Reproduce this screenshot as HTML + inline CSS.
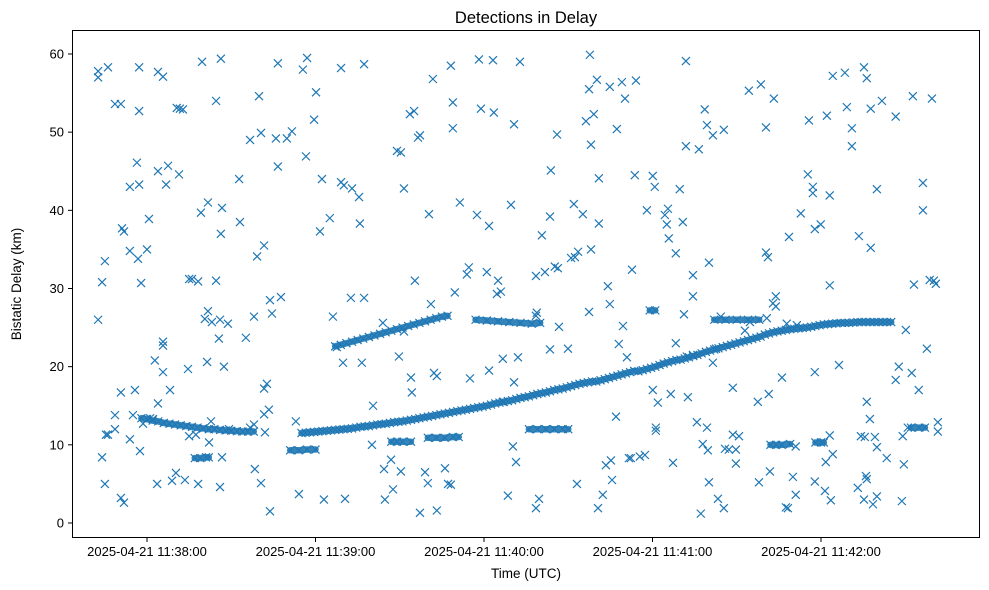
<!DOCTYPE html>
<html>
<head>
<meta charset="utf-8">
<style>
  html,body{margin:0;padding:0;background:#fff;}
  svg{display:block;font-family:"Liberation Sans","DejaVu Sans",sans-serif;}
</style>
</head>
<body>
<svg id="chart" width="989" height="590" viewBox="0 0 989 590">
  <rect x="0" y="0" width="989" height="590" fill="#fff"/>
  <text x="526" y="23" text-anchor="middle" font-size="16.5" fill="#000">Detections in Delay</text>
  <g id="bands"></g>
  <g id="marks"></g>
  <g id="yticks"></g>
  <g id="xticks"></g>
  <rect x="72.5" y="30.5" width="907" height="507" fill="none" stroke="#000" stroke-width="1"/>
  <text x="526" y="578" text-anchor="middle" font-size="13.5" fill="#000">Time (UTC)</text>
  <text transform="translate(21,284) rotate(-90)" text-anchor="middle" font-size="13.5" fill="#000">Bistatic Delay (km)</text>
</svg>
<script>
// time in seconds after 2025-04-21 11:38:00, delay in km
const xTickValues = [0, 60, 120, 180, 240];
const xTickLabels = ["2025-04-21 11:38:00","2025-04-21 11:39:00","2025-04-21 11:40:00","2025-04-21 11:41:00","2025-04-21 11:42:00"];
const yTickValues = [0, 10, 20, 30, 40, 50, 60];

const trackT = [55,56.5,58,59.5,61,62.5,64,65.5,67,68.5,70,71.5,73,74.5,76,77.5,79,80.5,82,83.5,85,86.5,88,89.5,91,92.5,94,95.5,97,98.5,100,101.5,103,104.5,106,107.5,109,110.5,112,113.5,115,116.5,118,119.5,121,122.5,124,125.5,127,128.5,130,131.5,133,134.5,136,137.5,139,140.5,142,143.5,145,146.5,148,149.5,151,152.5,154,155.5,157,158.5,160,161.5,163,164.5,166,167.5,169,170.5,172,173.5,175,176.5,178,179.5,181,182.5,184,185.5,187,188.5,190,191.5,193,194.5,196,197.5,199,200.5,202,203.5,205,206.5,208,209.5,211,212.5,214,215.5,217,218.5,220,221.5,223,224.5,226,227.5,229,230.5,232,233.5,235,236.5,238,239.5,241,242.5,244,245.5,247,248.5,250,251.5,253,254.5,256,257.5,259,260.5,262,263.5,265];
const trackY = [11.5,11.55,11.6,11.65,11.7,11.75,11.8,11.85,11.9,11.95,
12.0,12.05,12.1,12.2,12.3,12.35,12.4,12.5,12.6,12.65,
12.7,12.8,12.9,12.95,13.0,13.1,13.2,13.3,13.4,13.5,
13.6,13.7,13.8,13.9,14.0,14.1,14.2,14.3,14.4,14.5,
14.6,14.7,14.8,14.9,15.0,15.15,15.3,15.4,15.5,15.6,
15.7,15.85,16.0,16.1,16.2,16.35,16.5,16.6,16.7,16.85,
17.0,17.1,17.2,17.35,17.5,17.65,17.8,17.9,18.0,18.1,
18.1,18.25,18.4,18.55,18.7,18.85,19.0,19.15,19.3,19.45,
19.4,19.55,19.7,19.85,20.0,20.2,20.4,20.55,20.7,20.85,
20.9,21.05,21.2,21.35,21.5,21.7,21.9,22.05,22.2,22.35,
22.5,22.65,22.8,22.95,23.1,23.25,23.4,23.55,23.7,23.85,
24.1,24.25,24.4,24.5,24.6,24.7,24.8,24.85,24.9,24.95,
25.0,25.1,25.2,25.3,25.4,25.45,25.5,25.55,25.6,25.6,
25.6,25.65,25.7,25.7,25.7,25.7,25.7,25.7,25.7,25.7,25.7];

const earlyTrackT = [-2,0,2,4,6,8,10,12,14,16,18,20,22,24,26,28,30,32,34,36,38];
const earlyTrackY = [13.4,13.3,13.1,13.0,12.8,12.7,12.6,12.5,12.4,12.3,12.2,12.1,12.0,12.0,11.9,11.85,11.8,11.75,11.7,11.7,11.7];

const upperTrackT = [67,69,71,73,75,77,79,81,83,85,87,89,91,93,95,97,99,101,103,105,107];
const upperTrackY = [22.6,22.8,23.0,23.2,23.4,23.6,23.8,24.0,24.2,24.4,24.6,24.8,25.0,25.2,25.4,25.6,25.8,26.0,26.2,26.4,26.5];

const segmentGroups = [
  [[117,26.0],[121,25.9],[125,25.8],[129,25.7],[133,25.6],[137,25.5],[140,25.6]],
  [[202,26.0],[206,26.0],[210,26.0],[214,26.0],[218,26.0]],
  [[136,12.0],[139,12.0],[142,12.0],[145,12.0],[148,12.0],[150,12.0]],
  [[100,10.9],[103,10.9],[106,10.9],[109,11.0],[111,11.0]],
  [[87,10.4],[89,10.4],[91,10.4],[94,10.4]],
  [[51,9.3],[54,9.3],[57,9.4],[60,9.4]],
  [[17,8.3],[19,8.3],[21,8.4],[22,8.4]],
  [[222,10.0],[224,10.0],[226,10.0],[229,10.1]],
  [[238,10.3],[240,10.3],[241,10.3]],
  [[179,27.2],[181,27.2]],
  [[272,12.2],[275,12.2],[277,12.2]]
];

const noisePoints = [
[-17.4,57],[-17.4,57.8],[-17.4,26],[-16,30.8],[-16,8.4],[-15,33.5],[-15,5],[-14.6,11.3],[-13.9,58.3],[-13.9,11.3],
[-11.4,53.6],[-11.4,13.8],[-11.4,12],[-9.3,53.6],[-9.3,16.7],[-9.3,3.2],[-8.2,2.6],[-8.9,37.7],[-8.2,37.3],
[-6.1,43],[-6.1,34.8],[-6.1,10.7],[-5,13.8],[-4.3,17],[-2.8,58.3],[-2.8,52.7],[-2.8,43.3],[-3.6,46.1],[-3.2,33.8],[-2.1,30.7],[-2.5,9.2],[-1.4,12.7],[0,35],[0.7,38.9],[1.1,13.4],[2.1,13.3],
[2.8,20.8],[3.6,5],[3.9,57.7],[3.9,45],[3.9,15.3],[5.7,57.1],[5.7,23.2],[5.7,22.7],[5.7,19.3],[6.8,43.3],[7.5,45.7],[8.2,17],[8.9,5.4],[10.3,6.4],[11.7,53],[10.6,53.1],[12.8,52.9],[11.4,44.6],[13.5,5.5],[14.6,19.7],[15,11.1],[15,31.2],[16,31.2],[18.2,30.9],[19.2,39.7],[19.6,59],[21.7,41],[20.6,26.1],[21.7,27.1],[23.1,25.7],[21.4,20.6],[22.1,10.3],[22.8,13],[18.2,5],[17.4,11.3],[24.6,31],[24.6,54],[26.3,59.4],[26.7,40.3],[26.3,37],[26,26],[25.6,23.6],[27.4,20],[26.7,8.4],[26,4.6],[29.2,12],[28.8,25.5],[32.8,44],[33.1,38.5],[35.2,23.7],[36.7,12.2],[38.1,12.6],[38.4,6.9],[36.7,49],[38.1,26.4],[39.2,34.1],[39.9,54.6],[40.6,49.9],[40.6,5.1],[41.7,35.5],[41.7,17.2],[42.7,17.8],[41.7,13.9],[42,11.6],[43.8,1.5],[43.8,28.5],[44.5,26.8],[43.4,14.5],[46.6,45.6],[45.9,49.2],[46.6,58.8],[47.7,28.9],[49.8,49.2],[51.6,50.1],[53,13],[54.1,3.7],[55.5,58],[57,59.5],[56.6,46.9],[59.5,51.6],[60.2,55.1],[61.6,37.3],[62.3,44],[63,3],[65.1,39],[66.2,26.4],[67.6,22.5],[69.1,58.2],[69.1,43.6],[70.1,43.2],[69.8,20.5],[70.5,3.1],[72.6,28.8],[73,42.8],[75.5,41.7],[75.8,38.3],[77.3,28.8],[77.3,58.7],[76.5,20.5],[80.5,15],[84,25.6],[80.1,10],[84.7,3],[84.4,6.9],[86.9,8.1],[87.6,4.3],[90.4,6.6],[89.7,21.3],[89,47.6],[90.4,47.4],[91.5,42.8],[91.5,24.5],[94,18.6],[94.3,16.7],[93.6,52.3],[95.1,52.7],[96.5,49.3],[97.2,49.6],[95.4,31],[97.2,1.3],[100,5.1],[99,6.5],[100.4,39.5],[101.1,28],[101.8,56.8],[102.2,19.2],[103.2,18.8],[103.2,1.6],[106.1,7],[107.2,5],[108.2,4.9],[108.2,58.5],[108.9,53.8],[108.9,50.5],[109.6,29.5],[111.4,41],[113.9,31.8],[114.6,32.7],[115,18.5],[117.5,39.4],[118.2,59.3],[118.9,53],[121,32.1],[121.8,38],[121.8,19.5],[123.2,59.2],[123.5,52.5],[124.6,29.3],[125,31],[126,29.6],[126.7,21],[126.7,15.5],[129.6,40.7],[130.7,51],[130.7,18],[132.1,21.2],[130.3,9.8],[131.4,7.8],[128.5,3.5],[132.8,59],[138.5,31.6],[140.6,36.8],[141.7,32.1],[143.5,22.2],[138.5,26.5],[138.8,26.9],[138.5,1.9],[139.6,3.1],[143.8,45.1],[143.5,39.2],[145.2,32.8],[146.3,32.6],[146,49.7],[146.7,25.1],[149.9,22.3],[151,33.9],[152,40.8],[153.5,34.7],[152.4,34],[153.1,5],[155.2,39.5],[157.4,27],[156.3,51.4],[157.7,59.9],[157.4,55.5],[158.1,48.4],[158.1,35],[160.6,1.9],[159.1,52.3],[160.2,56.7],[160.9,44.1],[160.9,38.3],[162.3,3.6],[163.4,7.4],[164.1,30.3],[164.8,28],[164.8,55.8],[165.2,8],[165.6,5.5],[167,13.6],[167.3,50.4],[169.1,56.4],[170.2,54.3],[169.5,25.2],[170.9,21.2],[168,22.9],[172.7,32.4],[173.7,44.5],[174.1,56.6],[171.6,8.3],[172.3,8.3],[175.5,8.5],[177.3,8.7],[178,40],[180.1,44.4],[180.8,43],[180.1,17],[181.9,15.4],[181.2,12.2],[181.2,11.8],[184.4,39.4],[185.5,40.2],[185.1,38.2],[185.8,36.4],[186.5,16.5],[187.3,7.7],[189.7,42.7],[190.8,38.5],[188.3,34.5],[188.3,23],[191.2,26.7],[191.9,59.1],[191.9,48.2],[192.2,21.3],[192.6,16.1],[194.4,31.7],[194.4,29],[194.4,21.5],[195.8,12.9],[196.5,47.8],[198.6,52.9],[199.4,50.9],[200.1,33.3],[199.4,12.2],[197.9,10.1],[199.7,9.3],[200.1,5.2],[197.2,1.2],[201.5,49.6],[202.6,22.3],[201.5,20.5],[204.3,26.4],[203.3,3.1],[205.4,1.9],[205.4,50.3],[205.8,9.5],[207.2,9.4],[208.6,17.3],[208.6,11.3],[209.7,9.4],[209.7,7.6],[210.8,11.1],[214.3,55.3],[212.9,24.6],[214.7,25.7],[217.5,15.5],[217.9,5.2],[218.6,56.1],[220.4,50.6],[220.4,34.6],[221.1,34],[220.7,26.2],[221.4,16.5],[221.8,6.6],[223.2,54.3],[222.9,28.1],[223.9,29],[223.9,27.7],[226.1,18.6],[227.5,2],[228.2,1.9],[227.8,25.5],[228.6,36.6],[230,5.9],[231,3.6],[231,9.8],[231.4,25.3],[232.8,39.6],[235.3,44.6],[235.7,51.5],[237.1,43],[237.1,42.2],[243.1,41.9],[237.8,37.6],[239.9,38.2],[237.8,19.3],[237.8,5.3],[241.4,4.1],[241.7,7.8],[243.1,11.2],[244.2,8.8],[243.5,2.9],[243.1,30.4],[242.1,52.1],[244.2,57.2],[246.4,20.2],[248.5,57.6],[249.2,53.2],[251,50.5],[251,48.2],[255.3,58.3],[256.3,56.9],[257.7,53],[253.5,36.7],[257.7,35.2],[259.9,42.7],[261.7,54],[256.3,15.5],[257.4,13.3],[254.2,11.1],[255.6,11],[259.2,11],[259.9,9.7],[253.1,4.5],[256,6],[256.3,5.6],[255.3,3],[258.5,2.4],[259.9,3.4],[263.4,8.3],[266.6,52],[266.6,18.3],[267.7,20],[269.1,11.1],[269.5,7.5],[268.8,2.8],[270.2,24.7],[272.7,54.6],[273.1,30.5],[272.3,19.2],[270.9,12.2],[274.8,17],[276.3,43.5],[276.3,40],[277.7,22.3],[278.7,31.1],[280.2,31],[280.9,30.6],[279.5,54.3],[281.6,12.9],[281.6,11.7]
];

const NS = "http://www.w3.org/2000/svg";
const x0px = 147, pxPerSec = 168.5 / 60;
const y0px = 523, pxPerKm = 7.817;
function xScale(t){ return x0px + t * pxPerSec; }
function yScale(v){ return y0px - v * pxPerKm; }

const marks = document.getElementById('marks');
const bands = document.getElementById('bands');
function drawX(t, v){
  if (t === undefined || v === undefined) return;
  const cx = xScale(t), cy = yScale(v), r = 4;
  const p = document.createElementNS(NS, 'path');
  p.setAttribute('d', `M${cx-r},${cy-r}L${cx+r},${cy+r}M${cx-r},${cy+r}L${cx+r},${cy-r}`);
  p.setAttribute('stroke', '#1f77b4');
  p.setAttribute('stroke-width', '1.2');
  p.setAttribute('fill', 'none');
  
  
  marks.appendChild(p);
}
function drawBand(ts, vs){
  const pts = ts.map((t, i) => `${xScale(t)},${yScale(vs[i])}`).join(' ');
  const pl = document.createElementNS(NS, 'polyline');
  pl.setAttribute('points', pts);
  pl.setAttribute('stroke', '#1f77b4');
  pl.setAttribute('stroke-width', '6.5');
  pl.setAttribute('stroke-linecap', 'round');
  pl.setAttribute('stroke-linejoin', 'round');
  pl.setAttribute('fill', 'none');
  pl.setAttribute('opacity', '0.9');
  
  
  bands.appendChild(pl);
}

drawBand(trackT, trackY);
drawBand(earlyTrackT, earlyTrackY);
drawBand(upperTrackT, upperTrackY);
segmentGroups.forEach(g => drawBand(g.map(p => p[0]), g.map(p => p[1])));

noisePoints.forEach(p => drawX(p[0], p[1]));
segmentGroups.forEach(g => g.forEach(p => drawX(p[0], p[1])));
trackT.forEach((t, i) => drawX(t, trackY[i]));
earlyTrackT.forEach((t, i) => drawX(t, earlyTrackY[i]));
upperTrackT.forEach((t, i) => drawX(t, upperTrackY[i]));

const yg = document.getElementById('yticks');
yTickValues.forEach(v => {
  const y = yScale(v);
  const l = document.createElementNS(NS, 'line');
  l.setAttribute('x1', 68); l.setAttribute('x2', 72.5);
  l.setAttribute('y1', y); l.setAttribute('y2', y);
  l.setAttribute('stroke', '#000');
  
  
  yg.appendChild(l);
  const tx = document.createElementNS(NS, 'text');
  tx.setAttribute('x', 64); tx.setAttribute('y', y + 4.5);
  tx.setAttribute('text-anchor', 'end');
  tx.setAttribute('font-size', '13');
  tx.textContent = String(v);
  
  
  yg.appendChild(tx);
});

const xg = document.getElementById('xticks');
xTickValues.forEach((t, i) => {
  const x = xScale(t);
  const l = document.createElementNS(NS, 'line');
  l.setAttribute('x1', x); l.setAttribute('x2', x);
  l.setAttribute('y1', 537.5); l.setAttribute('y2', 542);
  l.setAttribute('stroke', '#000');
  
  
  xg.appendChild(l);
  const tx = document.createElementNS(NS, 'text');
  tx.setAttribute('x', x); tx.setAttribute('y', 556);
  tx.setAttribute('text-anchor', 'middle');
  tx.setAttribute('font-size', '13');
  tx.textContent = xTickLabels[i];
  
  
  xg.appendChild(tx);
});
</script>
</body>
</html>
